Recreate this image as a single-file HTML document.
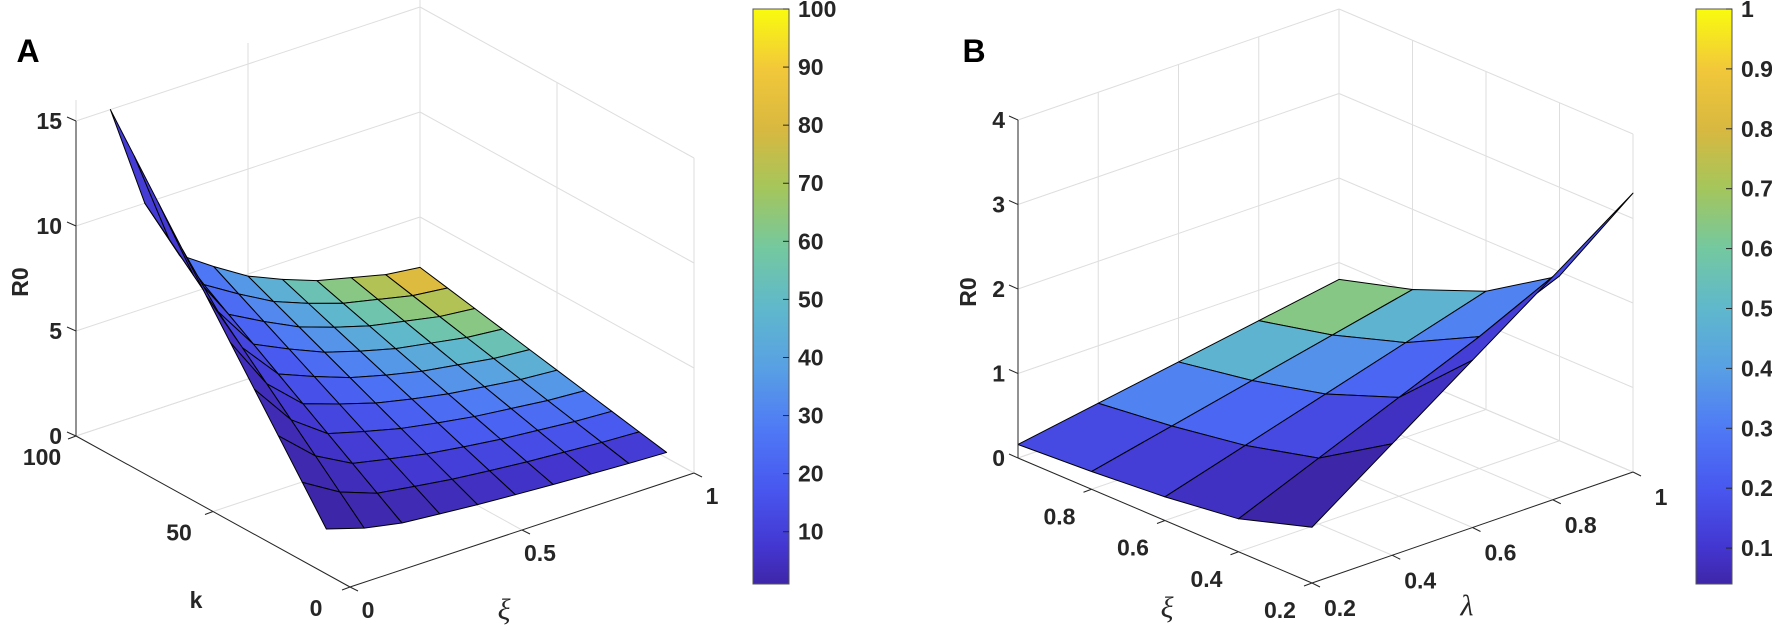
<!DOCTYPE html>
<html><head><meta charset="utf-8">
<style>
html,body{margin:0;padding:0;background:#fff;}
svg{display:block;font-family:"Liberation Sans",Arial,sans-serif;}
.tk{font-size:23px;font-weight:bold;fill:#262626;}
</style></head>
<body>
<svg id="fig" width="1772" height="625" viewBox="0 0 1772 625" xmlns="http://www.w3.org/2000/svg">
<defs>
<linearGradient id="parula" x1="0" y1="1" x2="0" y2="0">
<stop offset="0" stop-color="#3e26a8"/><stop offset="0.063" stop-color="#4336d0"/>
<stop offset="0.167" stop-color="#4858f0"/><stop offset="0.271" stop-color="#4f7af5"/>
<stop offset="0.375" stop-color="#58a0e4"/><stop offset="0.479" stop-color="#5fb8cc"/>
<stop offset="0.583" stop-color="#74c8a0"/><stop offset="0.6875" stop-color="#a4c65c"/>
<stop offset="0.79" stop-color="#d8b840"/><stop offset="0.896" stop-color="#f2c83a"/>
<stop offset="1" stop-color="#f9fb0e"/>
</linearGradient>
</defs>
<g id="panelA"></g>
<g id="panelB"></g>
<text x="28" y="51" font-size="32" font-weight="bold" text-anchor="middle" dominant-baseline="central">A</text>
<text x="974" y="51" font-size="32" font-weight="bold" text-anchor="middle" dominant-baseline="central">B</text>
</svg>
<script>
// ---------- Panel A data ----------
const xiA = [0.1,0.2,0.3,0.4,0.5,0.6,0.7,0.8,0.9,1.0];
const kA = [10,20,30,40,50,60,70,80,90,100];
const zA = [
 [1.5,1.0,0.7,0.59,0.49,0.42,0.36,0.32,0.28,0.26],
 [3.0,2.0,1.4,1.18,0.98,0.84,0.72,0.64,0.56,0.52],
 [4.5,3.0,2.1,1.77,1.47,1.26,1.08,0.96,0.84,0.78],
 [6.0,4.0,2.8,2.36,1.96,1.68,1.44,1.28,1.12,1.04],
 [7.5,5.0,3.5,2.95,2.45,2.1,1.8,1.6,1.4,1.3],
 [9.0,6.0,4.2,3.54,2.94,2.52,2.16,1.92,1.68,1.56],
 [10.5,7.0,4.9,4.13,3.43,2.94,2.52,2.24,1.96,1.82],
 [12.0,8.0,5.6,4.72,3.92,3.36,2.88,2.56,2.24,2.08],
 [13.5,9.0,6.3,5.31,4.41,3.78,3.24,2.88,2.52,2.34],
 [15,10,7,5.9,4.9,4.2,3.6,3.2,2.8,2.6]
];
const cA = [
 [1,2,3,4,5,6,7,8,9,10],
 [2,4,6,8,10,12,14,16,18,20],
 [3,6,9,12,15,18,21,24,27,30],
 [4,8,12,16,20,24,28,32,36,40],
 [5,10,15,20,25,30,35,40,45,50],
 [6,12,18,24,30,36,42,48,54,60],
 [7,14,21,28,35,42,49,56,63,70],
 [8,16,24,32,40,48,56,64,72,80],
 [9,18,27,36,45,54,63,72,81,90],
 [10,20,30,40,50,60,70,80,90,100]
];
const zTicksA = [0,5,10,15];
const kTicksA = [0,50,100];
const xiTicksA = [0,0.5,1];
const cbTicksA = [10,20,30,40,50,60,70,80,90,100];

// ---------- Panel B data ----------
const xiB = [0.2,0.4,0.6,0.8,1.0];
const lamB = [0.2,0.4,0.6,0.8,1.0];
const zB = [
 [0.66,0.39,0.28,0.21,0.16],
 [1.32,0.78,0.56,0.42,0.32],
 [1.98,1.17,0.84,0.63,0.48],
 [2.64,1.56,1.12,0.84,0.64],
 [3.3,1.95,1.4,1.05,0.8]
];
const cB = [
 [0.04,0.08,0.12,0.16,0.2],
 [0.08,0.16,0.24,0.32,0.4],
 [0.12,0.24,0.36,0.48,0.6],
 [0.16,0.32,0.48,0.64,0.8],
 [0.2,0.4,0.6,0.8,1.0]
];
const zTicksB = [0,1,2,3,4];
const xiTicksB = [0.2,0.4,0.6,0.8,1];
const xiLabelsB = [0.2,0.4,0.6,0.8];
const lamTicksB = [0.2,0.4,0.6,0.8,1];
const cbTicksB = [0.1,0.2,0.3,0.4,0.5,0.6,0.7,0.8,0.9,1];

const NS = 'http://www.w3.org/2000/svg';
const stops = [[0,[62,38,168]],[0.063,[67,54,208]],[0.167,[72,88,240]],[0.271,[79,122,245]],[0.375,[88,160,228]],[0.479,[95,184,204]],[0.583,[116,200,160]],[0.6875,[164,198,92]],[0.79,[216,184,64]],[0.896,[242,200,58]],[1,[249,251,14]]];
function cmap(t){
  t=Math.max(0,Math.min(1,t));
  for(let i=1;i<stops.length;i++){
    if(t<=stops[i][0]){
      const a=stops[i-1],b=stops[i],f=(t-a[0])/(b[0]-a[0]);
      const c=a[1].map((v,j)=>Math.round(v+(b[1][j]-v)*f));
      return 'rgb('+c.join(',')+')';
    }
  }
  return 'rgb(249,251,14)';
}
function mk(tag,attrs,parent){
  const e=document.createElementNS(NS,tag);
  for(const k in attrs) e.setAttribute(k,attrs[k]);
  parent.appendChild(e); return e;
}
function line(g,p,q,stroke,name){
  const e=mk('line',{x1:p[0],y1:p[1],x2:q[0],y2:q[1],stroke:stroke,'stroke-width':1},g);
  
  
  return e;
}
function txt(g,x,y,s,anchor,name,cls){
  const e=mk('text',{x:x,y:y,'text-anchor':anchor,'dominant-baseline':'central','class':cls||'tk'},g);
  e.textContent=s;
  
  
  return e;
}
function greek(g,x,y,s,name){
  const e=mk('text',{x:x,y:y,'text-anchor':'middle','dominant-baseline':'central','font-size':30,'font-style':'italic','font-family':'Liberation Serif, serif',fill:'#262626'},g);
  e.textContent=s;
  
  
  return e;
}
const GRID='#dedede', AX='#262626';

// ---------- Panel A ----------
(function(){
  const g=document.getElementById('panelA');
  const F=[350,587], R=[694,473], L=[76,436], zs=21;
  const P=(xi,k,z)=>[F[0]+xi*(R[0]-F[0])+(k/100)*(L[0]-F[0]), F[1]+xi*(R[1]-F[1])+(k/100)*(L[1]-F[1])-z*zs];
  // surface projection with mild perspective widening toward the front
  const PS=(xi,k,z)=>{const p=P(xi,k,z), q=P(1,k,z), s=1+0.11*(1-k/100); return [q[0]+(p[0]-q[0])*s, p[1]];};
  const zmax=15;
  xiTicksA.forEach(x=>{ line(g,P(x,0,0),P(x,100,0),GRID,'floor-grid-xi'); line(g,P(x,100,0),P(x,100,zmax+1),GRID,'wall-grid-xi'); });
  kTicksA.forEach(k=>{ line(g,P(0,k,0),P(1,k,0),GRID,'floor-grid-k'); line(g,P(1,k,0),P(1,k,zmax),GRID,'wall-grid-k'); });
  zTicksA.forEach(z=>{ line(g,P(0,100,z),P(1,100,z),GRID,'back-wall-grid-z'); line(g,P(1,100,z),P(1,0,z),GRID,'side-wall-grid-z'); });
  const cells=[];
  for(let j=0;j<kA.length-1;j++) for(let i=0;i<xiA.length-1;i++){
    const pts=[PS(xiA[i],kA[j],zA[j][i]),PS(xiA[i+1],kA[j],zA[j][i+1]),PS(xiA[i+1],kA[j+1],zA[j+1][i+1]),PS(xiA[i],kA[j+1],zA[j+1][i])];
    const d=P((xiA[i]+xiA[i+1])/2,(kA[j]+kA[j+1])/2,0)[1];
    cells.push({pts,d,c:cA[j][i]});
  }
  cells.sort((a,b)=>a.d-b.d);
  const sg=mk('g',{},g);
  
  
  cells.forEach(c=>{
    const e=mk('polygon',{points:c.pts.map(p=>p.join(',')).join(' '),fill:cmap((c.c-1)/99),stroke:'#000','stroke-width':1,'stroke-linejoin':'round'},sg);
    
    
  });
  line(g,P(0,100,0),P(0,100,zmax),AX,'z-axis');
  line(g,P(0,100,0),P(0,0,0),AX,'k-axis');
  line(g,P(0,0,0),P(1,0,0),AX,'xi-axis');
  zTicksA.forEach(z=>{const p=P(0,100,z); line(g,p,[p[0]-9,p[1]-4],AX,'z-tick'); txt(g,p[0]-14,p[1],String(z),'end','z-tick-label');});
  kTicksA.forEach(k=>{const p=P(0,k,0); line(g,p,[p[0]-8,p[1]+3],AX,'k-tick'); txt(g,p[0]-34,p[1]+21,String(k),'middle','k-tick-label');});
  xiTicksA.forEach(x=>{const p=P(x,0,0); line(g,p,[p[0]+8,p[1]+4],AX,'xi-tick'); txt(g,p[0]+18,p[1]+23,String(x),'middle','xi-tick-label');});
  const zl=txt(g,0,0,'R0','middle','z-axis-title'); zl.setAttribute('transform','translate(20,282) rotate(-90)');
  txt(g,196,600,'k','middle','k-axis-title');
  greek(g,504,610,'ξ','xi-axis-title');
  const cbx=753,cby=9,cbw=36,cbh=575, vmin=1,vmax=100;
  const cb=mk('rect',{x:cbx,y:cby,width:cbw,height:cbh,fill:'url(#parula)',stroke:'#555','stroke-width':1},g);
  
  
  cbTicksA.forEach(v=>{const y=cby+cbh-(v-vmin)/(vmax-vmin)*cbh; line(g,[cbx+cbw-6,y],[cbx+cbw,y],AX,'colorbar-tick'); txt(g,cbx+cbw+9,y,String(v),'start','colorbar-tick-label');});
})();

// ---------- Panel B ----------
(function(){
  const g=document.getElementById('panelB');
  const F=[1312,583], R=[1633,472], L=[1018,458], zs=84.5;
  const P=(xi,lam,z)=>{const a=(lam-0.2)/0.8,b=(xi-0.2)/0.8;
    return [F[0]+a*(R[0]-F[0])+b*(L[0]-F[0]), F[1]+a*(R[1]-F[1])+b*(L[1]-F[1])-z*zs];};
  const zmax=4;
  xiTicksB.forEach(x=>{ line(g,P(x,0.2,0),P(x,1,0),GRID,'floor-grid-xi'); line(g,P(x,1,0),P(x,1,zmax),GRID,'wall-grid-xi'); });
  lamTicksB.forEach(l=>{ line(g,P(0.2,l,0),P(1,l,0),GRID,'floor-grid-lambda'); line(g,P(1,l,0),P(1,l,zmax),GRID,'wall-grid-lambda'); });
  zTicksB.forEach(z=>{ line(g,P(1,0.2,z),P(1,1,z),GRID,'back-wall-grid-z'); line(g,P(1,1,z),P(0.2,1,z),GRID,'side-wall-grid-z'); });
  const cells=[];
  for(let j=0;j<lamB.length-1;j++) for(let i=0;i<xiB.length-1;i++){
    const pts=[P(xiB[i],lamB[j],zB[j][i]),P(xiB[i+1],lamB[j],zB[j][i+1]),P(xiB[i+1],lamB[j+1],zB[j+1][i+1]),P(xiB[i],lamB[j+1],zB[j+1][i])];
    const d=P((xiB[i]+xiB[i+1])/2,(lamB[j]+lamB[j+1])/2,0)[1];
    cells.push({pts,d,c:cB[j][i]});
  }
  cells.sort((a,b)=>a.d-b.d);
  const sg=mk('g',{},g);
  
  
  cells.forEach(c=>{
    const e=mk('polygon',{points:c.pts.map(p=>p.join(',')).join(' '),fill:cmap((c.c-0.04)/0.96),stroke:'#000','stroke-width':1,'stroke-linejoin':'round'},sg);
    
    
  });
  line(g,P(1,0.2,0),P(1,0.2,zmax),AX,'z-axis');
  line(g,P(1,0.2,0),P(0.2,0.2,0),AX,'xi-axis');
  line(g,P(0.2,0.2,0),P(0.2,1,0),AX,'lambda-axis');
  zTicksB.forEach(z=>{const p=P(1,0.2,z); line(g,p,[p[0]-9,p[1]-4],AX,'z-tick'); txt(g,p[0]-13,p[1],String(z),'end','z-tick-label');});
  xiLabelsB.forEach(x=>{const p=P(x,0.2,0); line(g,p,[p[0]-8,p[1]+3],AX,'xi-tick'); txt(g,p[0]-32,p[1]+27,x.toFixed(1),'middle','xi-tick-label');});
  lamTicksB.forEach(l=>{const p=P(0.2,l,0); line(g,p,[p[0]+8,p[1]+4],AX,'lambda-tick'); txt(g,p[0]+28,p[1]+25,l===1?'1':l.toFixed(1),'middle','lambda-tick-label');});
  const zl=txt(g,0,0,'R0','middle','z-axis-title'); zl.setAttribute('transform','translate(968,292) rotate(-90)');
  greek(g,1167,608,'ξ','xi-axis-title');
  greek(g,1467,606,'λ','lambda-axis-title');
  const cbx=1696,cby=9,cbw=36,cbh=575, vmin=0.04,vmax=1;
  const cb=mk('rect',{x:cbx,y:cby,width:cbw,height:cbh,fill:'url(#parula)',stroke:'#555','stroke-width':1},g);
  
  
  cbTicksB.forEach(v=>{const y=cby+cbh-(v-vmin)/(vmax-vmin)*cbh; line(g,[cbx+cbw-6,y],[cbx+cbw,y],AX,'colorbar-tick'); txt(g,cbx+cbw+9,y,v===1?'1':v.toFixed(1),'start','colorbar-tick-label');});
})();
</script>
</body></html>
